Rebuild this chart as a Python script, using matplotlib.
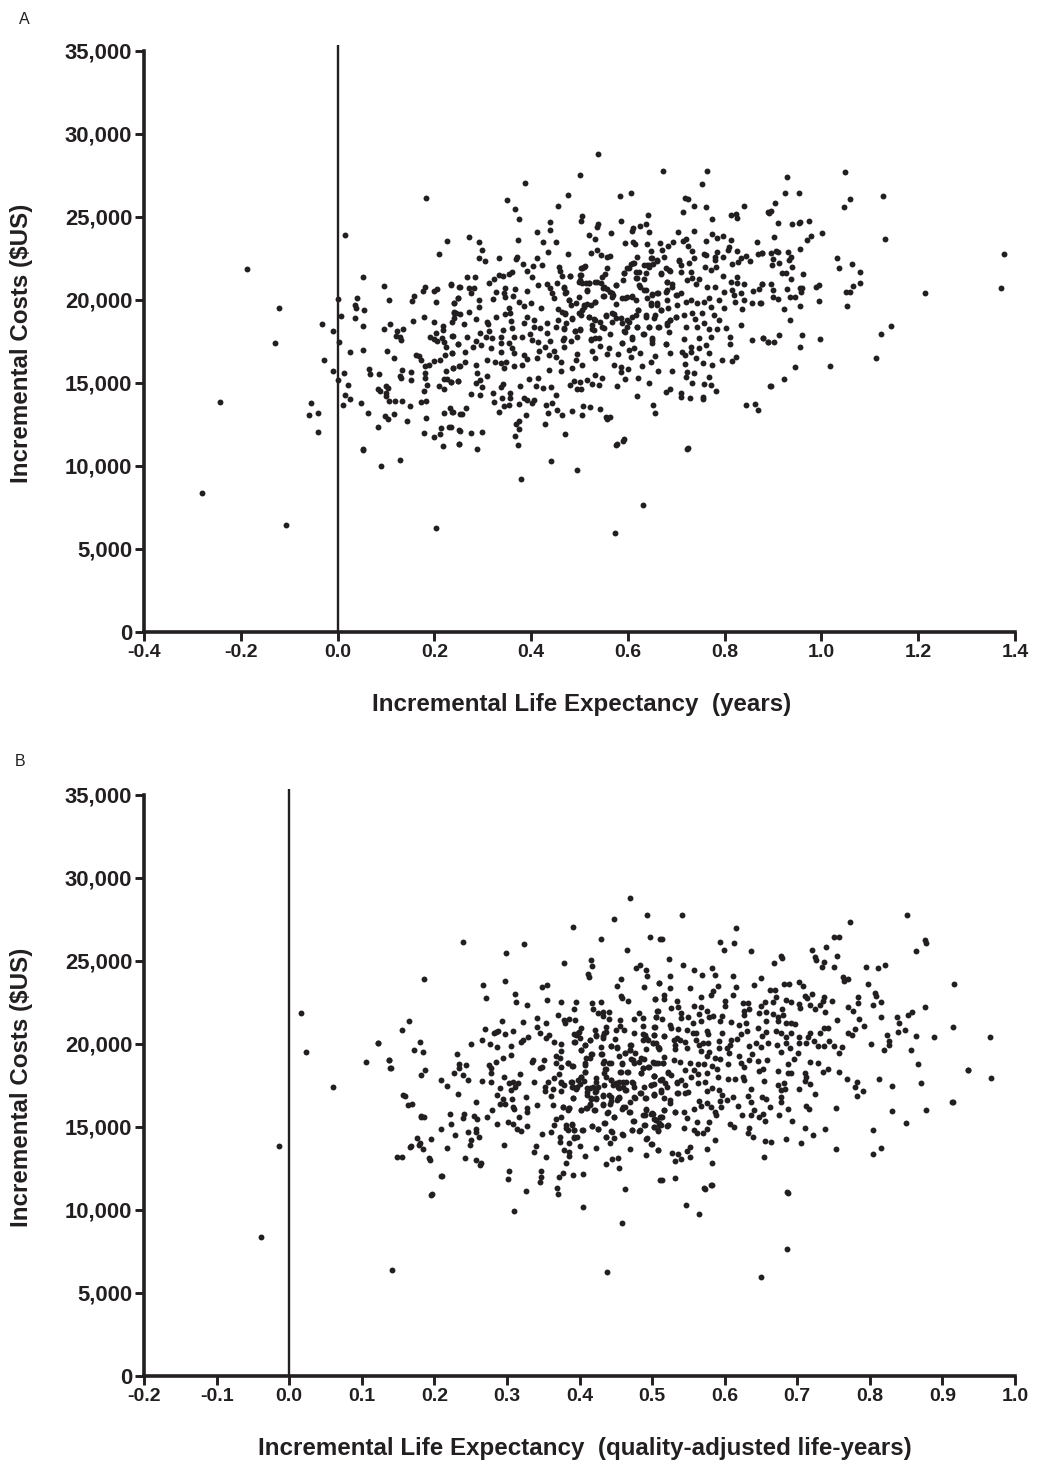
import matplotlib
matplotlib.use('Agg')
import matplotlib.pyplot as plt

plt.rcParams['font.family'] = ['Liberation Sans', 'DejaVu Sans']

# panel A, left part of the cloud
a_left_x = [.1825,.016,.226,.21,-.188,.053,.095,.18,.177,.199,.206,.234,.252,0,.04,.107,.159,.154,.203,.24,.249,.037,.039,-.12,.054,.24,.244,.008,.036,.178,.24,-.032,.052,.108,.155,.2,.218,.096,.123,.136,-.01,.217,.204,.121,.13,.132,.192,.199,.206,.215,.22,.224,.238,.249,.004,-.13,.025,.053,.103,.222,.237,.163,.169,.116,.173,.199,.211,-.027,.18,.189,.065,.067,-.01,.013,.085,.134,.151,.225,.239,.251,.13,.132,.151,.18,.18,0,.219,.227,.235,.248,.021,.101,.105,.185,.209,.22,.083,.087,.101,.101,.179,.016,.025,.107,.118,.134,.172,.183,-.054,.048,.012,.15,-.242,-.041,-.058,.062,.099,.105,.116,.219,.233,.238,.253,.183,.144,.083,-.04,.214,.231,.251,.178,.199,.211,.218,.25,.052]
a_left_y = [26120,23895,23570,22790,21887,21405,20840,20800,20540,20560,20660,20920,20780,20080,20140,20020,20260,19960,19860,19840,20140,19680,19540,19500,19400,19300,19200,19015,18915,18955,18890,18570,18450,18550,18735,18690,18450,18230,18130,18250,18150,18190,18030,17850,17790,17590,17770,17670,17550,17690,17450,17190,17830,17330,17470,17410,16885,17010,16910,16705,16790,16665,16650,16485,16385,16345,16365,16365,16040,16060,15820,15560,15700,15620,15540,15760,15640,15720,15900,16020,15440,15320,15200,15620,15280,15180,15220,15240,15040,15140,14900,14840,14680,14900,14800,14640,14660,14520,14380,14220,14520,14255,14015,13915,13895,13895,13855,13935,13775,13775,13695,13615,13855,13190,13050,13170,13030,12830,13150,13190,13510,13270,13110,12870,12710,12370,12030,12270,12370,12150,11985,11725,11905,11185,11305,11000]

# panel A, upper half of the dense middle
a_up_x = [.539,.502,.672,.764,.754,.387,.477,.583,.606,.351,.719,.725,.455,.366,.737,.761,.84,.889,.713,.641,.506,.504,.375,.586,.439,.774,.813,.823,.826,.538,.536,.61,.609,.626,.637,.44,.413,.566,.643,.703,.737,.52,.271,.533,.373,.293,.425,.451,.593,.611,.614,.639,.667,.694,.713,.721,.761,.774,.785,.796,.814,.867,.683,.671,.725,.298,.435,.537,.544,.648,.733,.809,.807,.825,.477,.523,.563,.557,.292,.304,.333,.371,.368,.413,.675,.757,.762,.737,.785,.781,.78,.797,.649,.661,.619,.61,.607,.639,.652,.644,.706,.709,.727,.827,.834,.844,.852,.869,.878,.816,.383,.404,.422,.391,.457,.459,.509,.504,.557,.599,.36,.354,.333,.342,.323,.312,.267,.285,.402,.463,.48,.504,.553,.547,.592,.59,.616,.619,.633,.637,.668,.678,.688,.71,.73,.723,.733,.747,.74,.759,.771,.783,.796,.825,.814,.825,.84,.878,.871,.68,.692,.68,.234,.253,.271,.283,.276,.327,.346,.366,.344,.347,.362,.392,.415,.432,.44,.444,.447,.454,.468,.473,.478,.482,.501,.513,.519,.515,.537,.55,.557,.575,.568,.568,.549,.595,.609,.617,.626,.637,.649,.662,.647,.661,.668,.702,.71,.702,.683,.721,.73,.743,.757,.767,.764,.781,.798,.816,.82,.833,.84,.821,.857,.874,.858,.788,.771,.798,.835]
a_up_y = [28815,27510,27750,27790,26990,27050,26305,26285,26465,26000,26160,26085,25640,25480,25660,25600,25640,25280,25320,25100,25040,24740,24900,24740,24700,24900,25100,25180,24920,24560,24420,24320,24175,24440,24560,24215,24075,24055,24075,24115,24175,23935,23795,23695,23595,23475,23515,23475,23435,23515,23370,23370,23450,23515,23575,23675,23575,23955,23755,23875,23615,23495,23230,23030,23230,23030,22910,23010,22730,22950,22930,23210,23010,22930,22790,22810,22630,22570,22550,22350,22550,22610,22450,22530,22610,22770,22690,22530,22890,22610,22410,22610,22550,22370,22590,22250,22150,22110,22170,21970,22350,22110,22250,22310,22510,22650,22370,22750,22830,22170,22150,22045,22110,21765,22010,21725,21970,21905,21925,21905,21705,21545,21505,21445,21265,21040,21365,21365,21405,21465,21465,21505,21545,21365,21605,21185,21705,21305,21265,21645,21565,21905,21725,21705,21705,21205,21305,21265,20965,21970,21805,22010,21445,21405,21105,21045,20945,20945,20660,21085,20945,20600,20945,20800,20700,20700,20400,20460,20740,20640,20400,20200,20260,20520,20880,20945,20700,20400,20100,21025,20800,20500,19995,19700,21205,21040,21040,20560,21085,20800,20640,20900,20400,20200,20240,20100,20260,19995,20800,20600,20340,20400,19800,19700,19395,20300,20400,19700,19500,19900,19995,19800,19900,20100,20800,20800,20500,20600,20300,20400,19995,19860,19840,19840,20540,19995,19600,19540,19455]

# panel A, lower half of the dense middle
a_low_x = [.293,.293,.322,.249,.241,.376,.385,.399,.355,.42,.455,.471,.499,.509,.516,.533,.575,.621,.241,.253,.271,.328,.347,.356,.358,.391,.455,.405,.485,.504,.519,.533,.554,.571,.585,.599,.616,.637,.654,.688,.699,.681,.716,.733,.754,.778,.788,.287,.309,.311,.262,.237,.386,.433,.419,.406,.473,.451,.599,.564,.619,.643,.663,.721,.742,.757,.767,.785,.803,.834,.738,.342,.313,.361,.294,.397,.433,.468,.502,.49,.526,.55,.592,.237,.267,.287,.306,.32,.338,.365,.382,.402,.414,.439,.465,.482,.523,.54,.609,.632,.685,.65,.716,.747,.771,.81,.857,.88,.89,.81,.678,.65,.249,.28,.297,.318,.337,.354,.337,.361,.365,.385,.392,.416,.428,.447,.437,.468,.526,.542,.561,.588,.557,.579,.602,.613,.625,.688,.712,.719,.731,.731,.747,.761,.767,.237,.263,.495,.492,.461,.533,.451,.413,.309,.325,.337,.349,.263,.253,.239,.287,.344,.364,.382,.606,.655,.647,.63,.571,.586,.585,.601,.506,.485,.437,.461,.74,.755,.774,.795,.816,.823,.719,.662,.692,.723,.737,.721,.289,.309,.294,.249,.235,.287,.299,.275,.294,.395,.415,.411,.425,.442,.342,.337,.377,.321,.356,.356,.34,.451,.489,.502,.516,.526,.531,.546,.48,.494,.504,.54,.578,.593,.621,.643,.618,.679,.688,.709,.709,.728,.733,.757,.756,.756,.772,.783,.767,.893,.845,.862,.869,.651,.656,.323,.386,.392,.406,.402,.344,.354,.376,.333,.43,.444,.454,.463,.435,.485,.507,.506,.522,.542,.557,.564,.389,.375,.368,.428,.375,.366,.471,.234,.253,.276,.298,.265,.258,.237,.252,.289,.373,.576,.589,.724]
a_low_y = [19995,19555,20040,20140,19840,19860,19660,19800,19540,19495,19435,19195,19240,19600,19760,19900,19740,19395,19240,19175,19295,19000,19135,19195,18755,19000,18795,18795,18855,19095,19000,18795,19095,19155,18935,18795,19075,19095,18935,18795,18955,18595,19095,19235,19235,19095,18795,18835,18695,18555,18575,18695,18595,18635,18335,18355,18595,18355,18395,17950,18395,18355,18355,18395,18395,18595,18250,18250,18310,18495,18835,18170,18110,18295,17990,17950,17990,18230,18250,18110,18250,18310,18130,17830,17750,17550,17750,17690,17750,17750,17790,17590,17490,17550,17590,17550,17590,17690,17630,17930,18050,17590,17630,17690,17790,17750,17590,17730,17450,17330,17330,17390,17330,17190,17270,17090,17390,17390,16885,17090,16830,16685,16425,16930,17190,16930,16685,17190,16950,17230,17090,17390,16745,16745,16985,17090,16785,16785,16885,16685,17190,16885,17090,17290,16785,16785,16845,16745,16385,16285,16525,16545,16485,16385,16285,16225,16285,16285,16045,15925,16065,15880,16020,16065,16545,16645,16285,16005,16065,15945,15680,15840,16065,15925,15800,15720,16505,16185,16085,16385,16325,16585,16125,15700,15745,15680,15620,15340,15580,15440,15180,15140,15040,14980,14740,14355,14295,15220,15280,14820,14680,14780,14920,14780,14820,14415,14375,14115,14075,14275,15140,15080,15180,14920,15480,15320,14880,14615,14615,14880,14820,15220,15320,15020,14215,14475,14640,14375,14175,14075,14980,14920,14175,14035,14860,14520,15380,14840,13675,13755,13355,13695,13190,13875,14075,13975,13975,13775,13615,13675,13715,13230,13675,13775,13375,13070,13170,13310,13595,13090,13535,13435,12850,12970,13070,12730,12510,12550,12230,11805,11950,12370,12130,12010,12030,13515,13135,13270,11305,11025,11285,11285,11505,11065]

# panel A, far low and far right points
a_far_x = [-.281,-.107,.203,.574,.632,.38,.442,.494,.09,.13,.052,.591,.577,.723,.554,1.378,1.372,1.213]
a_far_y = [8400,6450,6270,5960,7650,9200,10300,9760,10000,10340,10960,11630,11330,11020,12950,22750,20750,20400]

# panel A, right tail
a_right_x = [.928,1.049,.924,.953,1.127,1.06,.904,1.047,.891,.896,.91,.939,.953,.955,.975,1.001,.979,.97,1.132,.902,.955,.877,.895,.906,.911,.93,.938,.933,.899,.897,.913,.939,1.032,1.037,1.064,1.079,.919,.926,.962,.938,.878,.896,.9,.928,.955,.96,.957,.989,.994,1.065,1.08,1.05,1.06,.899,.91,.936,.945,.995,.875,.923,.955,1.053,.935,.88,.89,.901,.912,.959,.998,.955,1.143,1.124,1.113,1.017,.945,.923,.895]
a_right_y = [27390,27730,26465,26465,26265,26065,25840,25620,25260,25340,24615,24600,24655,24720,24780,24055,23835,23590,23650,23775,23090,22830,22850,22970,22890,22890,22590,22390,22470,22130,22210,22010,22530,21905,22190,21705,21625,21605,21545,21245,20945,20945,20600,20660,20700,20740,20500,20800,20900,20820,21045,20460,20460,20180,20040,20180,20200,19960,19840,19475,19615,19635,18815,17730,17450,17490,17910,17890,17670,17170,18450,17930,16505,16040,15945,15260,14840]

# panel A, densest clump
a_clump_x = [.506,.511,.502,.48,.499,.506,.52,.515,.533,.544,.549,.575,.564,.57,.551,.468,.471,.478,.492,.499,.509,.523,.533,.464,.471,.485,.506,.52,.53,.526,.53,.542,.554,.568,.575,.568,.588,.595,.609,.588,.547,.523,.533,.502,.495,.468,.469,.49,.592,.602,.613,.623,.616,.623,.633,.599,.588,.609,.64,.65,.661,.647,.661,.668,.657,.637,.621,.681,.692,.678,.699,.681,.688,.681,.699,.633,.644,.647,.661,.685,.668,.706,.602,.619,.644,.664,.65,.633,.678,.609]
a_clump_y = [21905,22050,21505,21465,21105,21000,21045,20600,21105,21005,20700,20900,20500,20300,20240,20700,20400,20000,19800,20200,19700,19700,19900,19300,19155,18895,19400,19000,18835,18495,18190,18695,19035,19195,18895,18695,18595,18090,17790,17390,18355,17630,17690,18190,17790,18295,17690,18150,21605,21905,22210,21705,21305,20900,20600,20200,20100,20200,20100,20300,20400,19700,19800,19400,19100,19000,19400,21105,20800,20500,20300,20000,18800,18495,18955,22105,22105,22510,22410,21805,21605,22410,18695,18395,18395,18355,17690,17930,17350,18995]

# panel B, left of 0.5
b_left_x = [.469,.493,.448,.391,.43,.497,.511,.24,.324,.466,.299,.379,.416,.417,.412,.413,.478,.483,.491,.493,.186,.298,.267,.457,.452,.489,.509,.349,.355,.271,.311,.313,.327,.355,.375,.395,.457,.459,.467,.504,.417,.43,.419,.393,.425,.432,.441,.432,.441,.508,.505,.482,.487,.371,.379,.38,.386,.394,.165,.155,.293,.322,.341,.354,.342,.456,.475,.488,.503,.27,.285,.282,.288,.298,.309,.265,.251,.277,.287,.306,.329,.322,.319,.346,.358,.354,.365,.374,.402,.398,.393,.4,.393,.421,.423,.437,.434,.432,.45,.456,.461,.449,.475,.487,.492,.501,.51,.487,.503,.414,.407,.402,.417,.415,.123,.18,.172,.185,.375,.368,.373,.368,.375,.306,.294,.285,.231,.443,.452,.43,.462,.47,.469,.477,.471,.482,.489,.475,.138,.14,.336,.335,.351,.345,.348,.384,.391,.407,.407,.402,.434,.443,.436,.458,.501,.508,.487,.494,.234,.234,.243,.276,.278,.278,.187,.182,.227,.239,.246,.318,.296,.372,.365,.434,.456,.466,.485,.502,.209,.218,.266,.278,.337,.309,.315,.303,.311,.357,.352,.352,.364,.375,.378,.388,.391,.395,.4,.406,.414,.41,.423,.425,.423,.443,.45,.455,.46,.462,.473,.475,.485,.498,.511]
b_left_y = [28795,27750,27510,27050,26305,26465,26305,26125,26005,25645,25500,24900,25040,24700,24200,24055,24600,24740,24480,24100,23895,23795,23575,23935,23515,23455,23675,23455,23575,22790,23010,22550,22350,22650,22510,22530,22910,22750,22590,22690,22450,22550,22090,22090,21890,21950,21930,21690,21490,22010,21650,21890,21545,21770,21445,21245,21485,21445,21405,20825,21405,21345,21545,21245,21045,21425,21525,21105,21045,20925,20700,20645,20785,20585,20785,20240,20020,19980,19840,19880,20440,20240,20100,20685,20525,20380,20140,20000,20945,20685,20585,20340,20100,20845,20500,21005,20645,20340,20845,21085,20845,20280,20645,20605,20340,20040,19740,20240,20545,20240,19940,19640,19380,19180,20080,20140,19660,19520,19580,19300,19180,18835,18635,19340,19180,18935,19400,19880,19780,19420,19440,19940,19640,19440,19100,18935,19100,18835,19015,18555,19035,18915,19035,18575,18595,18835,18675,18835,18335,18035,18980,18835,18475,18795,18935,18835,18575,18595,18795,18535,18715,18715,18535,18235,18435,18155,18255,18155,17830,18215,18035,18195,17970,18275,18295,18295,18235,18075,17830,17450,17790,17690,17710,17730,17630,17630,17430,17730,17390,17190,17290,17690,17530,17730,17430,17290,17590,17770,17330,17130,17930,17430,17190,17830,17630,17330,17730,17230,17730,17430,17030,17530,17830]

b_low_x = [.291,.305,.287,.232,.16,.433,.443,.455,.475,.49,.503,.361,.375,.391,.416,.423,.432,.307,.294,.326,.257,.169,.29,.297,.309,.31,.341,.364,.377,.386,.384,.414,.402,.411,.442,.452,.462,.459,.468,.438,.42,.492,.488,.499,.511,.447,.474,.505,.28,.327,.327,.221,.181,.186,.241,.24,.255,.259,.273,.317,.301,.309,.287,.223,.368,.375,.365,.328,.314,.32,.209,.381,.39,.384,.393,.404,.417,.426,.435,.444,.436,.448,.458,.472,.482,.489,.503,.51,.258,.258,.246,.229,.262,.251,.249,.196,.349,.361,.373,.373,.386,.393,.397,.442,.492,.499,.508,.167,.18,.184,.217,.296,.34,.337,.401,.423,.379,.385,.385,.469,.155,.193,.242,.258,.264,.263,.354,.408,.492,.445,.453,.436,.455,.382,.21,.303,.302,.347,.347,.346,.372,.377,.391,.405,.511,.196,.326,.369,.37,.462]
b_low_y = [17330,17210,16930,16990,16890,16890,16830,16730,16830,16730,16970,16850,17170,16730,16690,16670,16385,16710,16670,16790,16485,16365,16385,16365,16225,16065,16325,16305,16225,16125,16025,16385,16025,16125,16385,16625,16225,16085,15925,15865,16025,16065,15725,15785,15585,15605,15340,15420,16025,16125,15885,15805,15685,15605,15765,15545,15685,15480,15625,15625,15280,15180,15180,15160,15505,15585,15120,15040,14900,14780,14900,15120,15180,14820,14820,14800,15060,14880,15260,14740,14380,14320,14560,14800,14780,15120,15020,15220,14880,14680,14680,14520,14380,14200,13895,14280,14560,14680,14380,14100,14055,14320,14420,14015,14280,13980,13615,13795,14015,13695,13755,13915,13855,13495,13875,13755,13615,13515,13275,13655,13175,13115,13155,13035,12855,12710,13195,13255,13295,13095,13115,12750,12530,12850,12030,12370,11890,12370,11970,11710,12010,12250,12110,12190,11810,10925,11165,11305,10985,11265]

# panel B, right of 0.5
b_rup_x = [.541,.851,.772,.616,.593,.613,.513,.751,.757,.876,.877,.863,.599,.636,.72,.74,.677,.679,.668,.724,.726,.755,.523,.542,.558,.583,.587,.569,.737,.734,.751,.795,.811,.821,.525,.611,.65,.763,.77,.765,.509,.525,.552,.591,.615,.641,.682,.689,.703,.708,.797,.916,.584,.581,.611,.662,.669,.807,.808,.516,.516,.504,.568,.671,.666,.685,.691,.71,.714,.72,.737,.735,.732,.748,.784,.784,.535,.536,.526,.558,.6,.601,.625,.632,.626,.634,.626,.655,.65,.657,.647,.666,.679,.68,.702,.704,.718,.724,.738,.77,.777,.805,.816,.876,.858,.853,.507,.506,.513,.54,.54,.549,.568,.575,.565,.579,.584,.597,.593,.568,.557,.609,.62,.63,.673,.657,.674,.685,.692,.697,.755,.785,.816,.838,.84,.915,.792,.504,.525,.526,.536,.548,.556,.561,.575,.577,.597,.646,.657,.651,.631,.623,.617,.671,.678,.685,.692,.702,.717,.715,.731,.737,.742,.77,.775,.78,.839,.848,.864,.888,.823]
b_rup_y = [27790,27750,27370,26970,26165,26065,26305,26465,26465,26265,26065,25625,25665,25605,25645,25845,25300,25160,24900,25260,25060,25300,25100,24740,24440,24560,24180,24180,24960,24660,24620,24640,24600,24760,24075,24115,23955,24055,23895,23795,23695,23395,23395,23495,23455,23555,23615,23615,23755,23515,23615,23635,23215,22950,22970,23255,23255,23055,22890,22950,22730,22690,22810,22850,22550,22650,22550,22910,22790,23010,22850,22610,22350,22570,22830,22450,22570,22250,22150,22290,22610,22290,22450,22490,21990,22090,21750,22550,22290,21950,21850,21790,22090,21750,22410,22190,22370,22130,21910,22210,22010,22370,22530,22210,21910,21730,22010,21650,21485,21890,21545,21605,22210,21990,21810,21650,21690,21690,21405,21405,21285,21305,21145,21245,21650,21405,21405,21285,21285,21185,21425,21525,21605,21605,21245,21045,21065,21045,21145,20945,20905,20845,20685,20685,20805,20605,20685,20945,20745,20480,20805,20605,20280,20805,20645,20445,20685,20445,20685,20445,20645,20945,20945,20685,20545,20885,20745,20845,20480,20440,20520]

b_rmid_x = [.503,.517,.53,.538,.545,.561,.57,.577,.592,.609,.607,.603,.592,.506,.51,.531,.532,.548,.565,.567,.634,.643,.65,.66,.672,.685,.69,.677,.703,.712,.723,.728,.737,.744,.751,.761,.758,.802,.827,.82,.857,.826,.579,.575,.586,.594,.606,.62,.637,.646,.658,.634,.701,.696,.718,.728,.742,.736,.757,.503,.515,.517,.53,.538,.552,.563,.572,.582,.604,.59,.622,.627,.653,.647,.673,.687,.687,.692,.522,.503,.545,.558,.553,.563,.575,.591,.604,.614,.625,.627,.654,.711,.712,.514,.518,.502,.534,.54,.545,.563,.573,.674,.682,.71,.717,.678,.683,.703,.724,.769,.783,.78,.79,.782,.813,.831,.87,.935,.866]
b_rmid_y = [20545,20480,20240,20240,20140,20240,20080,20040,20180,20240,19940,19740,19780,20040,19700,19940,19680,19740,19940,19600,19880,20040,19840,20040,19920,20040,19740,19540,20040,20040,20180,19900,19880,20200,19900,19840,19460,20020,19940,19620,19620,20180,19540,19280,19140,19100,19440,19300,19400,18975,19035,19035,19460,19120,18935,18835,18495,18295,18315,18875,18835,19200,19035,18935,18875,18795,18795,18675,18795,18495,18875,18595,18515,18395,18375,18775,18235,18235,18275,18075,18435,18435,18035,18195,18235,18035,17890,17910,18035,17830,17770,18275,18035,17890,17630,17590,17670,17830,17530,17630,17730,17550,17670,17750,17590,17230,17270,17270,17010,17890,17730,17430,17170,16890,17890,17470,17670,18435,18815]

b_rlow_x = [.512,.502,.516,.525,.524,.535,.545,.55,.576,.583,.592,.597,.612,.603,.594,.564,.576,.632,.636,.636,.652,.657,.678,.677,.568,.581,.558,.595,.586,.588,.619,.663,.687,.712,.716,.753,.878,.913,.831,.517,.531,.544,.548,.501,.624,.636,.64,.647,.653,.656,.675,.693,.505,.513,.562,.579,.608,.613,.85,.503,.512,.521,.508,.544,.558,.562,.57,.575,.634,.632,.639,.71,.738,.722,.805,.586,.656,.664,.685,.705,.5,.552,.548,.508,.576,.753,.815,.804,.528,.536,.552,.531,.54,.582,.654,.514,.531,.582,.573,.687]
b_rlow_y = [17230,16930,16750,16625,16430,17030,17070,17090,17170,17330,17230,16930,16810,16625,16565,16585,16465,16870,17290,16530,16790,16690,16830,16530,16285,16225,16105,16225,15925,15725,16285,16185,16105,16285,16065,16125,16050,16505,15945,16025,15885,15885,15545,15785,15705,15705,16005,15625,15785,15360,15705,15380,15420,15585,15280,15280,15200,15000,15260,15020,15120,15080,14780,14920,14820,14620,14620,14860,14960,14620,14420,14920,14860,14500,14840,14220,14180,14080,14255,14055,13975,13795,13555,13595,13695,13655,13735,13355,13455,13355,13175,12930,13050,12855,13195,11790,11950,11505,11285,11025]

b_far_x = [-.039,-.014,.016,.023,.061,.142,.106,.123,.138,.139,.438,.459,.565,.547,.405,.31,.197,.65,.686,.686,.581,.572,.209,.149,.157,.164,.182,.176,.168,.194,.179,.966,.967,.915,.935]
b_far_y = [8375,13855,21870,19520,17410,6385,18915,20060,19035,18555,6265,9220,9760,10300,10180,9940,10960,5965,7650,11085,11500,11325,12050,13190,16930,16325,15600,14340,13855,13010,13915,20450,17950,16500,18450]

# panel B, densest clump
b_clump_x = [.395,.399,.394,.407,.402,.414,.423,.432,.437,.429,.416,.409,.431,.444,.452,.454,.462,.471,.469,.485,.474,.49,.494,.501,.508,.492,.517,.535,.384,.389,.407,.407,.402,.398,.396,.389,.389,.375,.432,.441,.435,.437,.444,.446,.455,.464,.453,.46,.464,.474,.458,.457,.467,.485,.487,.496,.506,.515,.522,.526,.502,.512,.521,.535,.499,.489,.483,.503,.512,.536,.492,.434,.423,.418,.411,.421,.411,.432,.441,.423,.416,.453,.455,.444,.432,.469,.476,.46,.421,.414,.402,.409,.386,.377,.391,.439,.469,.448,.492,.49,.5,.517,.531,.512,.475,.434,.503,.51,.522,.49,.389,.382,.393,.405,.417,.426,.472,.483,.508,.445,.437,.46,.493,.393]
b_clump_y = [20540,20740,20140,19940,19640,20240,20540,20480,20740,19800,19400,19135,19400,19880,19840,19275,19440,19940,19640,19135,19035,20540,20240,20040,19840,19680,20480,20340,18835,18675,18735,18335,18030,17830,17430,17730,17390,17630,18835,18835,18470,18030,17830,17530,17730,17730,17390,17430,17230,17630,18835,18335,18335,18230,18535,18635,18835,18835,18335,18130,18070,17830,17390,17730,17530,17390,17030,16930,17130,17030,16725,17530,17730,17430,17330,17130,16930,16930,16930,16725,16725,16725,16825,16585,16325,16525,16725,16225,16025,16325,16025,16125,16125,16225,16725,15925,15925,15620,16025,15725,15825,16025,15925,15580,15380,15220,15460,15120,15120,15120,15120,14920,14820,14820,15060,14900,14820,14820,14820,14720,14420,14520,14320,14380]

y_ticks = [0, 5000, 10000, 15000, 20000, 25000, 30000, 35000]
y_ticklabels = ['0', '5,000', '10,000', '15,000', '20,000', '25,000', '30,000', '35,000']
a_xticks = [-0.4, -0.2, 0.0, 0.2, 0.4, 0.6, 0.8, 1.0, 1.2, 1.4]
b_xticks = [-0.2, -0.1, 0.0, 0.1, 0.2, 0.3, 0.4, 0.5, 0.6, 0.7, 0.8, 0.9, 1.0]

ink = '#231f20'
W, H = 1037, 1463


def panel(top_px, xticks, groups, xlabel, label_px, label_py):
    ax = fig.add_axes([144 / W, 1 - (top_px + 587) / H, 871 / W, 587 / H])
    for xs, ys in groups:
        ax.scatter(xs, ys, s=18, color=ink, linewidths=0, zorder=3, clip_on=False)
    ax.plot([0, 0], [0, 35360], color=ink, lw=1.7, zorder=2)
    ax.set_xlim(xticks[0], xticks[-1])
    ax.set_ylim(0, 35360)
    ax.set_xticks(xticks)
    ax.set_xticklabels(['%.1f' % t for t in xticks])
    ax.set_yticks(y_ticks)
    ax.set_yticklabels(y_ticklabels)
    ax.spines['top'].set_visible(False)
    ax.spines['right'].set_visible(False)
    ax.spines['left'].set_linewidth(2.6)
    ax.spines['bottom'].set_linewidth(2.6)
    ax.spines['left'].set_bounds(0, 35000)
    ax.spines['left'].set_color(ink)
    ax.spines['bottom'].set_color(ink)
    ax.tick_params(length=6.5, width=2.1, color=ink, labelcolor=ink, pad=2)
    ax.tick_params(axis='x', labelsize=14)
    ax.tick_params(axis='y', labelsize=15.8)
    for t in ax.get_xticklabels() + ax.get_yticklabels():
        t.set_fontweight('bold')
    fig.text(label_px / W, 1 - label_py / H, xlabel, ha='center', va='center', fontsize=17.4,
             fontweight='bold', color=ink)
    fig.text(22 / W, 1 - (top_px + 298) / H, 'Incremental Costs ($US)', rotation=90, ha='center',
             va='center', fontsize=17.4, fontweight='bold', color=ink)
    return ax


fig = plt.figure(figsize=(W / 100, H / 100), dpi=100)
panel(45, a_xticks, [(a_left_x, a_left_y), (a_up_x, a_up_y), (a_low_x, a_low_y), (a_far_x, a_far_y),
                     (a_right_x, a_right_y), (a_clump_x, a_clump_y)],
      'Incremental Life Expectancy  (years)', 582, 705)
panel(789, b_xticks, [(b_left_x, b_left_y), (b_low_x, b_low_y), (b_rup_x, b_rup_y), (b_rmid_x, b_rmid_y),
                      (b_rlow_x, b_rlow_y), (b_far_x, b_far_y), (b_clump_x, b_clump_y)],
      'Incremental Life Expectancy  (quality-adjusted life-years)', 585, 1449)
fig.text(24 / W, 1 - 19 / H, 'A', ha='center', va='center', fontsize=11.5, color=ink)
fig.text(20 / W, 1 - 762 / H, 'B', ha='center', va='center', fontsize=11.5, color=ink)
fig.savefig('out.png', dpi=100)
